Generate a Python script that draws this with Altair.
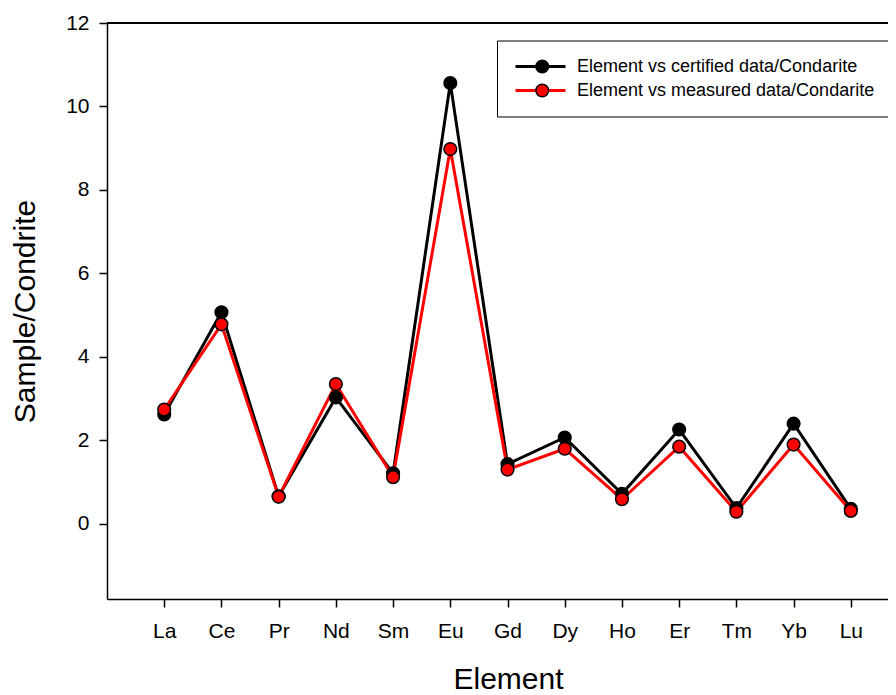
import altair as alt
import pandas as pd

elements = ["La", "Ce", "Pr", "Nd", "Sm", "Eu", "Gd", "Dy", "Ho", "Er", "Tm", "Yb", "Lu"]
certified = [2.62, 5.07, 0.66, 3.03, 1.21, 10.56, 1.43, 2.07, 0.72, 2.26, 0.38, 2.40, 0.36]
measured = [2.74, 4.78, 0.65, 3.35, 1.12, 8.98, 1.30, 1.80, 0.59, 1.85, 0.29, 1.90, 0.31]
series_names = ["Element vs certified data/Condarite", "Element vs measured data/Condarite"]
series_colors = ["#000000", "#ff0000"]
y_ticks = [0, 2, 4, 6, 8, 10, 12]

rows = []
for name, vals in zip(series_names, [certified, measured]):
    for i, (el, v) in enumerate(zip(elements, vals)):
        rows.append({"series": name, "series_pt": name, "element": el, "idx": i + 1, "value": v})
df = pd.DataFrame(rows)

FONT = "Liberation Sans"
label_arr = "[''," + ",".join("'%s'" % e for e in elements) + "]"

x_enc = alt.X(
    "idx:Q",
    scale=alt.Scale(domain=[0, 13.65], nice=False, zero=False),
    axis=alt.Axis(
        values=list(range(1, len(elements) + 1)),
        labelExpr=label_arr + "[datum.value]",
        title="Element",
        titleFontSize=30,
        titleFontWeight="normal",
        titleFont=FONT,
        titlePadding=23,
        titleX=401,
        titleAlign="center",
        labelFontSize=21,
        labelPadding=13,
    ),
)
y_enc = alt.Y(
    "value:Q",
    scale=alt.Scale(domain=[-1.8, 12], nice=False, zero=False),
    axis=alt.Axis(
        values=y_ticks,
        title="Sample/Condrite",
        titleFontSize=30,
        titleFontWeight="normal",
        titleFont=FONT,
        titlePadding=25,
        labelFontSize=21,
        labelPadding=10,
    ),
)

top_line = alt.Chart(df).mark_rule(color="black", strokeWidth=1.5).encode(
    y=alt.datum(12)
)

lines = alt.Chart(df).mark_line(strokeWidth=3).encode(
    x=x_enc,
    y=y_enc,
    stroke=alt.Stroke(
        "series:N",
        scale=alt.Scale(domain=series_names, range=series_colors),
        legend=alt.Legend(
            title=None,
            orient="none",
            legendX=390,
            legendY=17.5,
            symbolType="M-1,0H1",
            symbolSize=2500,
            symbolStrokeWidth=3,
            clipHeight=18,
            labelFontSize=18,
            labelFont=FONT,
            labelColor="black",
            labelOffset=10,
            labelLimit=600,
            padding=17,
            rowPadding=6,
            strokeColor="black",
        ),
    ),
    order="idx:Q",
)

points = alt.Chart(df).mark_point(
    shape="circle", filled=True, size=160, stroke="black", strokeWidth=1.5, opacity=1
).encode(
    x=x_enc,
    y=y_enc,
    fill=alt.Fill(
        "series_pt:N",
        scale=alt.Scale(range=series_colors),
        legend=alt.Legend(
            title=None,
            orient="none",
            legendX=409.2,
            legendY=17.5,
            symbolType="circle",
            symbolSize=160,
            symbolStrokeColor="black",
            symbolStrokeWidth=1.5,
            symbolOpacity=1,
            clipHeight=18,
            labelFontSize=18,
            labelFont=FONT,
            labelExpr="''",
            labelOffset=0,
            padding=17,
            rowPadding=6,
        ),
    ),
)

chart = (
    alt.layer(top_line, lines, points)
    .properties(
        width=781,
        height=576,
        padding={"left": 99, "top": 15, "right": 0, "bottom": 96},
        autosize=alt.AutoSizeParams(type="none"),
        background="white",
    )
    .resolve_legend(fill="independent", stroke="independent")
    .configure_view(stroke=None)
    .configure_axis(
        grid=False,
        domainColor="black",
        domainWidth=1.5,
        tickColor="black",
        tickWidth=1.5,
        tickSize=8,
        labelColor="black",
        titleColor="black",
        labelFont=FONT,
    )
)

chart.save("out.html", embed_options={"renderer": "svg", "actions": False})
